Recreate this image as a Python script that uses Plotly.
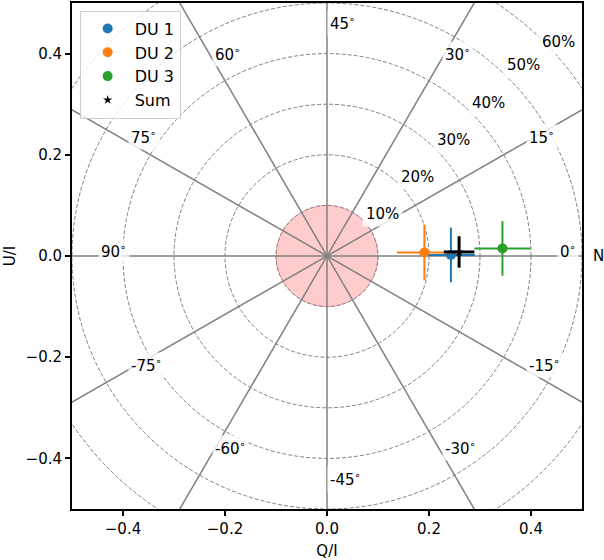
import numpy as np
import plotly.graph_objects as go

# polarisation measurements (Q/I, U/I) with 1-sigma errors
names = ["DU 1", "DU 2", "DU 3", "Sum"]
q_vals = [0.243, 0.191, 0.344, 0.259]
u_vals = [0.002, 0.007, 0.015, 0.008]
q_errs = [0.047, 0.054, 0.055, 0.030]
u_errs = [0.054, 0.055, 0.054, 0.031]
colors = ["#1f77b4", "#ff7f0e", "#2ca02c", "black"]

# polarisation-degree circles and polarisation-angle spokes
pd_levels = [10, 20, 30, 40, 50, 60]          # percent
pa_labels = [-75, -60, -45, -30, -15, 0, 15, 30, 45, 60, 75, 90]  # degrees
mdp_radius = 0.1

FONT = dict(family="DejaVu Sans", size=15, color="black")

fig = go.Figure()

# spokes: a polarisation angle psi sits at 2*psi in the Q/U plane
for psi in pa_labels:
    if psi < 0 or psi >= 90:
        continue
    phi = np.deg2rad(2 * psi)
    fig.add_trace(go.Scatter(x=[-np.cos(phi), np.cos(phi)],
                             y=[-np.sin(phi), np.sin(phi)],
                             mode="lines", line=dict(color="gray", width=1.5),
                             hoverinfo="skip", showlegend=False))

# MDP disc
fig.add_shape(type="circle", xref="x", yref="y",
              x0=-mdp_radius, y0=-mdp_radius, x1=mdp_radius, y1=mdp_radius,
              fillcolor="rgba(255,0,0,0.2)", line=dict(color="rgba(255,0,0,0.25)", width=1),
              layer="below")

# dashed PD circles
for p in pd_levels:
    r = p / 100
    fig.add_shape(type="circle", xref="x", yref="y", x0=-r, y0=-r, x1=r, y1=r,
                  line=dict(color="gray", width=1, dash="4px,2px"), layer="below")

# data points
for i, nm in enumerate(names):
    is_sum = nm == "Sum"
    fig.add_trace(go.Scatter(
        x=[q_vals[i]], y=[u_vals[i]], name=nm, mode="markers",
        marker=dict(color=colors[i], size=7 if is_sum else 10,
                    symbol="star" if is_sum else "circle"),
        error_x=dict(type="data", array=[q_errs[i]], color=colors[i],
                     thickness=3 if is_sum else 2, width=0),
        error_y=dict(type="data", array=[u_errs[i]], color=colors[i],
                     thickness=3 if is_sum else 2, width=0),
    ))

annotations = []
# angle labels
for psi in pa_labels:
    phi = np.deg2rad(2 * psi)
    annotations.append(dict(
        x=0.45 * np.cos(phi), y=0.45 * np.sin(phi), xref="x", yref="y",
        text=f"{psi}<sup>∘</sup>", showarrow=False, xanchor="left", yanchor="middle",
        yshift=5, font=FONT, bgcolor="rgba(255,255,255,0.8)", borderpad=2))

# PD labels, just above the 45 deg direction (outermost one kept lower)
for p in pd_levels:
    r = p / 100
    ly = 0.735 * r + 0.009 if p < 60 else 0.704 * r
    annotations.append(dict(
        x=0.69 * r, y=ly, xref="x", yref="y",
        text=f"{p}%", showarrow=False, xanchor="left", yanchor="middle",
        font=FONT, bgcolor="rgba(255,255,255,0.8)", borderpad=3))

annotations.append(dict(x=1, y=0, xref="paper", yref="y", text="N", showarrow=False,
                        xanchor="left", yanchor="middle", xshift=9, font=FONT))

axis = dict(range=[-0.5, 0.5], tickvals=[-0.4, -0.2, 0.0, 0.2, 0.4], tickformat=".1f",
            showgrid=False, zeroline=False, showline=True, mirror=True,
            linecolor="black", linewidth=2, ticks="outside", ticklen=5, tickwidth=1.5,
            tickcolor="black", tickfont=FONT)

fig.update_layout(
    width=604, height=560,
    margin=dict(l=72, r=22, t=1, b=51),
    plot_bgcolor="white", paper_bgcolor="white",
    font=FONT,
    xaxis=dict(axis, title=dict(text="Q/I", font=FONT, standoff=8)),
    yaxis=dict(axis, title=dict(text="U/I", font=FONT, standoff=6)),
    legend=dict(x=0.015, y=0.985, xanchor="left", yanchor="top",
                bgcolor="rgba(255,255,255,0.8)", bordercolor="#cccccc", borderwidth=1,
                font=dict(FONT, size=16), tracegroupgap=0, itemwidth=44),
    annotations=annotations,
    showlegend=True,
)

fig.write_html("out.html", config={"displayModeBar": False},
               post_script="document.body.style.margin='0';")
